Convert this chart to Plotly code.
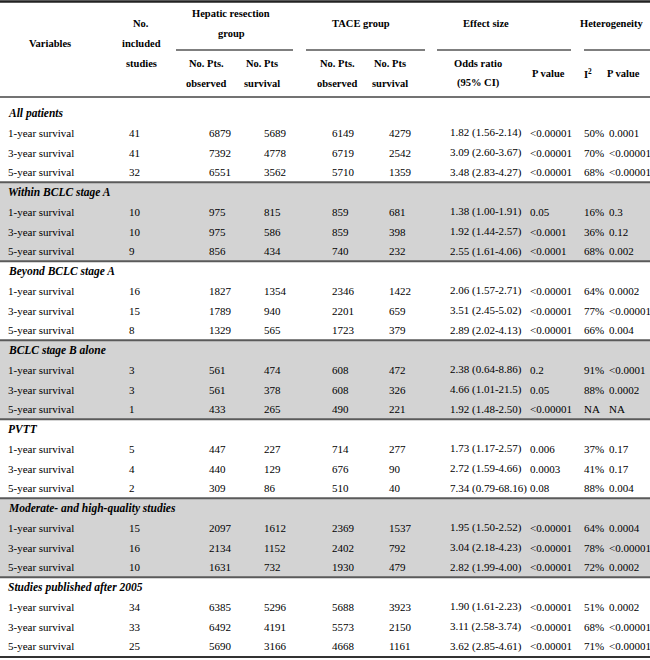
import plotly.graph_objects as go

# ---------------- data ----------------
groups = ["All patients", "Within BCLC stage A", "Beyond BCLC stage A", "BCLC stage B alone",
          "PVTT", "Moderate- and high-quality studies", "Studies published after 2005"]
row_labels = ["1-year survival", "3-year survival", "5-year survival"]

n_studies = [[41, 41, 32], [10, 10, 9], [16, 15, 8], [3, 3, 1], [5, 4, 2], [15, 16, 10], [34, 33, 25]]
hr_observed = [[6879, 7392, 6551], [975, 975, 856], [1827, 1789, 1329], [561, 561, 433],
               [447, 440, 309], [2097, 2134, 1631], [6385, 6492, 5690]]
hr_survival = [[5689, 4778, 3562], [815, 586, 434], [1354, 940, 565], [474, 378, 265],
               [227, 129, 86], [1612, 1152, 732], [5296, 4191, 3166]]
tace_observed = [[6149, 6719, 5710], [859, 859, 740], [2346, 2201, 1723], [608, 608, 490],
                 [714, 676, 510], [2369, 2402, 1930], [5688, 5573, 4668]]
tace_survival = [[4279, 2542, 1359], [681, 398, 232], [1422, 659, 379], [472, 326, 221],
                 [277, 90, 40], [1537, 792, 479], [3923, 2150, 1161]]
odds_ratio = [["1.82 (1.56-2.14)", "3.09 (2.60-3.67)", "3.48 (2.83-4.27)"],
              ["1.38 (1.00-1.91)", "1.92 (1.44-2.57)", "2.55 (1.61-4.06)"],
              ["2.06 (1.57-2.71)", "3.51 (2.45-5.02)", "2.89 (2.02-4.13)"],
              ["2.38 (0.64-8.86)", "4.66 (1.01-21.5)", "1.92 (1.48-2.50)"],
              ["1.73 (1.17-2.57)", "2.72 (1.59-4.66)", "7.34 (0.79-68.16)"],
              ["1.95 (1.50-2.52)", "3.04 (2.18-4.23)", "2.82 (1.99-4.00)"],
              ["1.90 (1.61-2.23)", "3.11 (2.58-3.74)", "3.62 (2.85-4.61)"]]
effect_p = [["<0.00001", "<0.00001", "<0.00001"], ["0.05", "<0.0001", "<0.0001"],
            ["<0.00001", "<0.00001", "<0.00001"], ["0.2", "0.05", "<0.00001"],
            ["0.006", "0.0003", "0.08"], ["<0.00001", "<0.00001", "<0.00001"],
            ["<0.00001", "<0.00001", "<0.00001"]]
i_squared = [["50%", "70%", "68%"], ["16%", "36%", "68%"], ["64%", "77%", "66%"],
             ["91%", "88%", "NA"], ["37%", "41%", "88%"], ["64%", "78%", "72%"],
             ["51%", "68%", "71%"]]
het_p = [["0.0001", "<0.00001", "<0.00001"], ["0.3", "0.12", "0.002"],
         ["0.0002", "<0.00001", "0.004"], ["<0.0001", "0.0002", "NA"],
         ["0.17", "0.17", "0.004"], ["0.0004", "<0.00001", "0.0002"],
         ["0.0002", "<0.00001", "<0.00001"]]
shaded = [False, True, False, True, False, True, False]

# ---------------- layout constants ----------------
W, H = 650, 660
FONT = "Liberation Serif, Times New Roman, serif"
FS = 11
HFS = 10.5
col_x = [7, 128, 208, 263, 331, 388, 449, 529, 583, 608]
y0 = 113.0
pitch = 19.75
header_bottom = 97
table_bottom = 657

fig = go.Figure()
shapes = []
ann = []


def txt(x, y, s, anchor="left", bold=False, italic=False, size=FS):
    if bold:
        s = "<b>" + s + "</b>"
    if italic:
        s = "<i>" + s + "</i>"
    ann.append(dict(x=x, y=y, xref="x", yref="y", text=s, showarrow=False,
                    xanchor=anchor, yanchor="middle", borderpad=0,
                    font=dict(family=FONT, size=size, color="#000000")))


# shaded bands and separators
for g in range(len(groups)):
    top = y0 + 4 * g * pitch - pitch / 2 if g > 0 else header_bottom
    bot = y0 + (4 * g + 4) * pitch - pitch / 2 if g < len(groups) - 1 else table_bottom
    if shaded[g]:
        shapes.append(dict(type="rect", xref="x", yref="y", x0=0, x1=W, y0=top, y1=bot,
                           fillcolor="#d3d3d3", line=dict(width=0), layer="below"))
    if g > 0:
        shapes.append(dict(type="line", xref="x", yref="y", x0=0, x1=W, y0=top, y1=top,
                           line=dict(color="#5a5a5a", width=2)))

# rules
shapes.append(dict(type="line", xref="x", yref="y", x0=0, x1=W, y0=1.5, y1=1.5,
                   line=dict(color="#222222", width=2.5)))
shapes.append(dict(type="line", xref="x", yref="y", x0=0, x1=W, y0=header_bottom, y1=header_bottom,
                   line=dict(color="#444444", width=1.5)))
shapes.append(dict(type="line", xref="x", yref="y", x0=0, x1=W, y0=table_bottom, y1=table_bottom,
                   line=dict(color="#333333", width=2)))
for (a, b) in [(176, 293), (306, 425), (437, 571), (584, 650)]:
    shapes.append(dict(type="line", xref="x", yref="y", x0=a, x1=b, y0=50, y1=50,
                       line=dict(color="#555555", width=1.5)))

# header text
txt(50, 43, "Variables", "center", bold=True, size=HFS)
txt(141, 23, "No.", "center", bold=True, size=HFS)
txt(141, 43, "included", "center", bold=True, size=HFS)
txt(141, 63, "studies", "center", bold=True, size=HFS)
txt(231, 13, "Hepatic resection", "center", bold=True, size=HFS)
txt(231, 33, "group", "center", bold=True, size=HFS)
txt(361, 23, "TACE group", "center", bold=True, size=HFS)
txt(486, 23, "Effect size", "center", bold=True, size=HFS)
txt(612, 23, "Heterogeneity", "center", bold=True, size=HFS)
for cx, l1, l2 in [(206, "No. Pts.", "observed"), (262, "No. Pts", "survival"),
                   (337, "No. Pts.", "observed"), (390, "No. Pts", "survival")]:
    txt(cx, 63, l1, "center", bold=True, size=HFS)
    txt(cx, 83, l2, "center", bold=True, size=HFS)
txt(478, 63, "Odds ratio", "center", bold=True, size=HFS)
txt(478, 83, "(95% CI)", "center", bold=True, size=HFS)
txt(548, 73, "P value", "center", bold=True, size=HFS)
txt(588, 73, "I<sup>2</sup>", "center", bold=True, size=HFS)
txt(623, 73, "P value", "center", bold=True, size=HFS)

# body
for g, name in enumerate(groups):
    gy = y0 + 4 * g * pitch
    txt(col_x[0], gy, name, bold=True, italic=True, size=11.5)
    for k in range(3):
        ry = gy + (k + 1) * pitch
        vals = [row_labels[k], str(n_studies[g][k]), str(hr_observed[g][k]), str(hr_survival[g][k]),
                str(tace_observed[g][k]), str(tace_survival[g][k]), odds_ratio[g][k],
                effect_p[g][k], i_squared[g][k], het_p[g][k]]
        for x, v in zip(col_x, vals):
            txt(x, ry, v.replace("<", "&lt;"))

fig.update_layout(
    width=W, height=H, margin=dict(l=0, r=0, t=0, b=0),
    paper_bgcolor="white", plot_bgcolor="white",
    xaxis=dict(range=[0, W], visible=False, fixedrange=True),
    yaxis=dict(range=[H, 0], visible=False, fixedrange=True),
    shapes=shapes, annotations=ann, showlegend=False,
)
fig.write_html("out.html", config={"displayModeBar": False},
               post_script="document.body.style.margin='0';document.body.style.overflow='hidden';")
